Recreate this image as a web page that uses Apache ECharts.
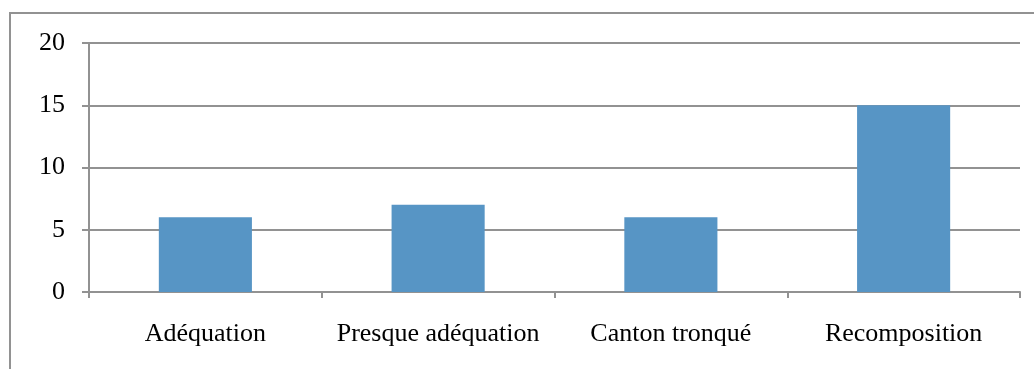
<!DOCTYPE html>
<html>
<head>
<meta charset="utf-8">
<script src="https://cdn.jsdelivr.net/npm/echarts@6/dist/echarts.min.js"></script>
<style>
  html, body { margin: 0; padding: 0; background: #fff; }
  #chart { width: 1034px; height: 369px; }
</style>
</head>
<body>
<div id="chart"></div>
<script>
// Categories and counts
const categories = ['Adéquation', 'Presque adéquation', 'Canton tronqué', 'Recomposition'];
const counts = [6, 7, 6, 15];

const gray = '#929292';
const font = '"Liberation Serif", "Times New Roman", serif';

const chart = echarts.init(document.getElementById('chart'));
chart.setOption({
  animation: false,
  backgroundColor: '#fff',
  graphic: [{
    type: 'rect',
    shape: { x: 10, y: 13, width: 1040, height: 420 },
    style: { fill: 'none', stroke: gray, lineWidth: 2 },
    silent: true
  }],
  grid: { left: 89, right: 14, top: 43, bottom: 77 },
  xAxis: {
    type: 'category',
    data: categories,
    axisLine: { lineStyle: { color: gray, width: 2 } },
    axisTick: { show: true, interval: 0, length: 6, lineStyle: { color: gray, width: 2 } },
    axisLabel: { interval: 0, color: '#000', fontFamily: font, fontSize: 26, margin: 29 }
  },
  yAxis: {
    type: 'value',
    min: 0,
    max: 20,
    interval: 5,
    axisLine: { show: true, lineStyle: { color: gray, width: 2 } },
    axisTick: { show: true, length: 7, lineStyle: { color: gray, width: 2 } },
    splitLine: { lineStyle: { color: gray, width: 2 } },
    axisLabel: { color: '#000', fontFamily: font, fontSize: 26, margin: 24 }
  },
  series: [{
    type: 'bar',
    data: counts,
    barWidth: '40%',
    itemStyle: { color: '#5795c5' }
  }]
});
</script>
</body>
</html>
